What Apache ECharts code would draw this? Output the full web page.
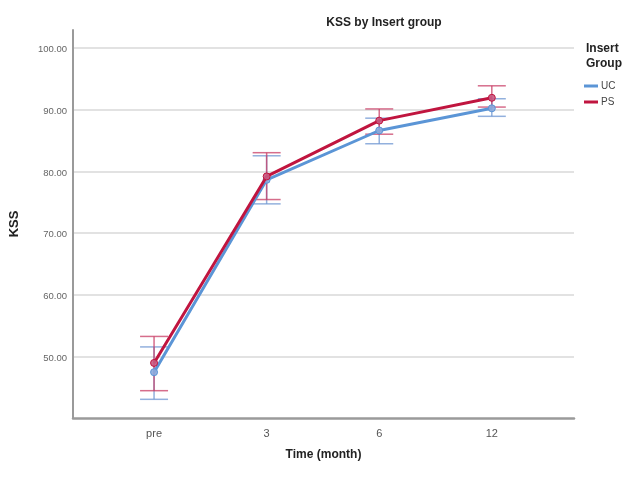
<!DOCTYPE html>
<html><head><meta charset="utf-8">
<script src="https://cdn.jsdelivr.net/npm/echarts@6/dist/echarts.min.js"></script>
<style>html,body{margin:0;padding:0;background:#fff}#c{width:626px;height:477px}</style>
</head><body><div id="c"></div>
<script>
const categories = ['pre', '3', '6', '12'];
const ucMean  = [47.7, 78.9, 86.9, 90.5];
const ucUpper = [51.8, 82.8, 88.9, 92.05];
const ucLower = [43.3, 75.0, 84.75, 89.2];
const psMean  = [49.2, 79.45, 88.5, 92.2];
const psUpper = [53.5, 83.3, 90.4, 94.15];
const psLower = [44.7, 75.7, 86.3, 90.7];
const yTicks = [50, 60, 70, 80, 90, 100];

const UC = '#5b95d6', PS = '#c0153f';
const UCbar = 'rgba(110,150,210,0.75)', PSbar = 'rgba(200,60,100,0.75)';

function pts(arr){ return arr.map((v,i)=>[i,v]); }
function errData(up, lo){ return up.map((u,i)=>[i, lo[i], u]); }
function errSeries(name, up, lo, color){
  return {
    type:'custom', name:name+'err', z:3, silent:true,
    data: errData(up, lo),
    renderItem: function(params, api){
      const x = api.value(0);
      const a = api.coord([x, api.value(1)]);
      const b = api.coord([x, api.value(2)]);
      const hw = 14;
      const st = {stroke: color, lineWidth: 1.5, fill: null};
      return {type:'group', children:[
        {type:'line', shape:{x1:a[0], y1:a[1], x2:b[0], y2:b[1]}, style:st},
        {type:'line', shape:{x1:a[0]-hw, y1:a[1], x2:a[0]+hw, y2:a[1]}, style:st},
        {type:'line', shape:{x1:b[0]-hw, y1:b[1], x2:b[0]+hw, y2:b[1]}, style:st}
      ]};
    }
  };
}

const chart = echarts.init(document.getElementById('c'), null, {renderer:'canvas'});
chart.setOption({
  animation:false,
  backgroundColor:'#fff',
  textStyle:{fontFamily:'Liberation Sans, Arial, sans-serif'},
  title:[
    {text:'KSS by Insert group', left:379, top:12, textAlign:'center',
     textStyle:{fontSize:12, fontWeight:'bold', color:'#222'}},
    {text:'Insert\nGroup', left:581, top:36,
     textStyle:{fontSize:12, fontWeight:'bold', color:'#222', lineHeight:15}}
  ],
  legend:{
    orient:'vertical', left:579, top:76, itemGap:6,
    itemWidth:14, itemHeight:3, icon:'rect',
    textStyle:{fontSize:10, color:'#444', padding:[0,0,0,-2]},
    data:[{name:'UC', itemStyle:{color:UC, borderWidth:0}},{name:'PS', itemStyle:{color:PS, borderWidth:0}}]
  },
  grid:{left:71, right:52, top:30, bottom:59},
  xAxis:{
    type:'value', min:-0.72, max:3.73,
    name:'Time (month)', nameLocation:'middle', nameGap:31,
    nameTextStyle:{fontSize:12, fontWeight:'bold', color:'#222'},
    axisLine:{show:true, onZero:false, lineStyle:{color:'#9a9a9a', width:2.5}},
    axisTick:{show:false},
    splitLine:{show:false},
    axisLabel:{customValues:[0,1,2,3], formatter:v=>categories[Math.round(v)], fontSize:11, color:'#555', margin:10}
  },
  yAxis:{
    type:'value', min:40.27, max:103.2, interval:10,
    name:'KSS', nameLocation:'middle', nameGap:52, nameRotate:90,
    nameTextStyle:{fontSize:13, fontWeight:'bold', color:'#222'},
    axisLine:{show:true, onZero:false, lineStyle:{color:'#9a9a9a', width:2}},
    axisTick:{show:false},
    axisLabel:{customValues:yTicks, formatter:v=>v.toFixed(2), fontSize:9.5, color:'#666', margin:6},
    splitLine:{show:true, showMinLine:false, showMaxLine:false, lineStyle:{color:'#d8d8d8', width:1.5}}
  },
  series:[
    errSeries('UC', ucUpper, ucLower, UCbar),
    errSeries('PS', psUpper, psLower, PSbar),
    {name:'UC', type:'line', data:pts(ucMean), z:4, color:UC,
     lineStyle:{width:3, color:UC}, symbol:'circle', symbolSize:7,
     itemStyle:{color:'rgba(140,170,220,0.9)', borderColor:UC, borderWidth:1}},
    {name:'PS', type:'line', data:pts(psMean), z:5, color:PS,
     lineStyle:{width:3, color:PS}, symbol:'circle', symbolSize:7,
     itemStyle:{color:'rgba(200,90,130,0.9)', borderColor:PS, borderWidth:1}}
  ]
});
</script></body></html>
